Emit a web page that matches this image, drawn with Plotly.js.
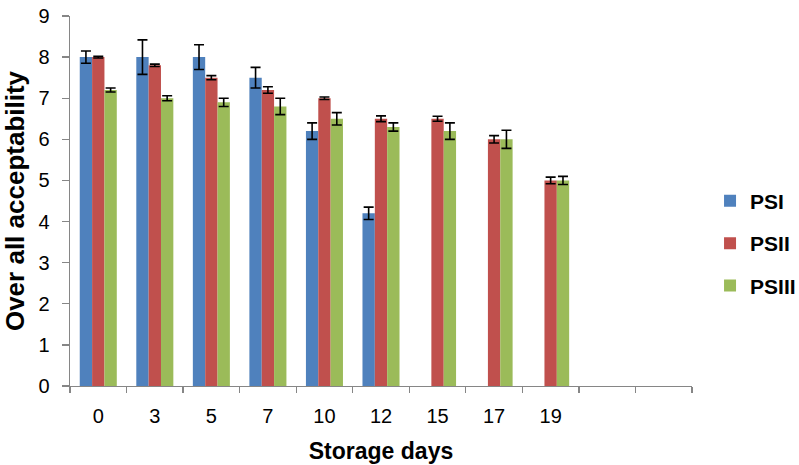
<!DOCTYPE html>
<html>
<head>
<meta charset="utf-8">
<script src="https://cdn.plot.ly/plotly-3.0.1.min.js"></script>
<style>html,body{margin:0;padding:0;background:#fff;}#chart{width:799px;height:465px;}</style>
</head>
<body>
<div id="chart"></div>
<script>
const categories = ["0", "3", "5", "7", "10", "12", "15", "17", "19", " ", "  "];
const daysPSI = ["0", "3", "5", "7", "10", "12"];
const daysAll = ["0", "3", "5", "7", "10", "12", "15", "17", "19"];
const psi = [8.0, 8.0, 8.0, 7.5, 6.2, 4.2];
const psiErr = [0.15, 0.42, 0.30, 0.25, 0.20, 0.15];
const psii = [8.0, 7.8, 7.5, 7.2, 7.0, 6.5, 6.5, 6.0, 5.0];
const psiiErr = [0.02, 0.03, 0.05, 0.08, 0.03, 0.07, 0.06, 0.09, 0.08];
const psiii = [7.2, 7.0, 6.9, 6.8, 6.5, 6.3, 6.2, 6.0, 5.0];
const psiiiErr = [0.05, 0.06, 0.10, 0.20, 0.15, 0.10, 0.20, 0.22, 0.10];
const seriesNames = ["PSI", "PSII", "PSIII"];
const colors = ["#4F81BD", "#C0504D", "#9BBB59"];

function errBar(arr) {
  return {type: "data", array: arr, visible: true, color: "#000000", thickness: 1.6, width: 5};
}
const traces = [
  {x: daysPSI, y: psi, error_y: errBar(psiErr)},
  {x: daysAll, y: psii, error_y: errBar(psiiErr)},
  {x: daysAll, y: psiii, error_y: errBar(psiiiErr)}
].map((t, i) => Object.assign(t, {
  type: "bar", name: seriesNames[i], legendgroup: seriesNames[i],
  marker: {color: colors[i], line: {width: 0}}
}));

const FAM = "Liberation Sans, Arial, sans-serif";
const axisFont = {family: FAM, size: 20, color: "#000"};
const layout = {
  width: 799, height: 465,
  margin: {l: 70, r: 107, t: 16, b: 79, autoexpand: false},
  paper_bgcolor: "#fff", plot_bgcolor: "#fff",
  barmode: "group", bargap: 0.345, bargroupgap: 0,
  showlegend: true,
  legend: {
    x: 1.029, xanchor: "left", y: 0.386, yanchor: "middle",
    font: {family: FAM, size: 21, color: "#000", weight: "bold"},
    traceorder: "grouped", tracegroupgap: 12,
    bgcolor: "rgba(0,0,0,0)"
  },
  xaxis: {
    type: "category", categoryorder: "array", categoryarray: categories,
    range: [-0.5, 10.5], tickson: "boundaries",
    ticks: "outside", ticklen: 6, tickcolor: "#868686", tickwidth: 1.3,
    showline: true, linecolor: "#868686", linewidth: 1.3,
    showgrid: false, zeroline: false,
    tickfont: axisFont, ticklabelstandoff: 12,
    title: {text: "Storage days", font: {family: FAM, size: 23, color: "#000", weight: "bold"}, standoff: 16}
  },
  yaxis: {
    range: [0, 9], dtick: 1, tick0: 0,
    ticks: "outside", ticklen: 7, tickcolor: "#868686", tickwidth: 1.3,
    showline: true, linecolor: "#868686", linewidth: 1.3,
    showgrid: false, zeroline: false,
    tickfont: axisFont, ticklabelstandoff: 8,
    title: {text: "Over all acceptability", font: {family: FAM, size: 26, color: "#000", weight: "bold"}, standoff: 12}
  }
};
Plotly.newPlot("chart", traces, layout, {displayModeBar: false, staticPlot: true});
</script>
</body>
</html>
